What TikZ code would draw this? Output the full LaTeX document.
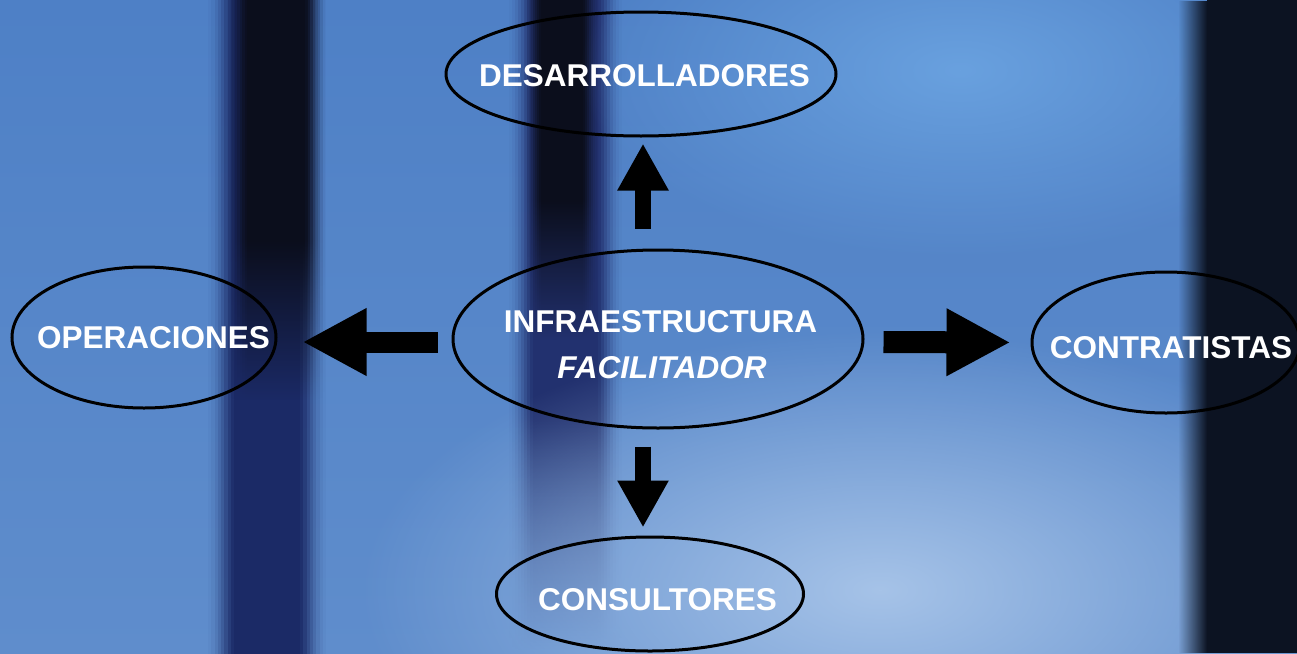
\documentclass[tikz,border=0pt]{standalone}
\usepackage{fontspec}
\setmainfont{Liberation Sans}
\usetikzlibrary{shapes.geometric,arrows.meta,fadings}
\tikzfading[name=fadeleft, left color=transparent!100, right color=transparent!0]
\tikzfading[name=fadebottom, top color=transparent!0, bottom color=transparent!100]
\tikzfading[name=glow, inner color=transparent!0, outer color=transparent!100]
\tikzfading[name=vband, top color=transparent!100, middle color=transparent!0, bottom color=transparent!100]
\definecolor{bgtop}{HTML}{4E80C6}
\definecolor{bgbot}{HTML}{5F8DCC}
\definecolor{glowA}{HTML}{69A1DF}
\definecolor{glowB}{HTML}{A6C3E8}
\definecolor{streak}{HTML}{2C4F96}
\definecolor{barblack}{HTML}{0B0E1C}
\definecolor{baronenavy}{HTML}{1B2A66}
\definecolor{bartwonavy}{HTML}{22316F}
\definecolor{rightdark}{HTML}{0C1322}
% soft vertical bar: colour, core left x, core right x, blur width, y top, y where fading starts, y bottom
\newcommand\softbar[7]{%
  \fill[#1] (#2,#5) rectangle (#3,#6);
  \fill[#1, path fading=fadebottom] (#2,#6) rectangle (#3,#7);
  \foreach \k/\o in {1/0.93,2/0.8,3/0.64,4/0.48,5/0.33,6/0.2,7/0.1,8/0.035}{%
    \pgfmathsetmacro\xa{#2-\k*#4/8}%
    \pgfmathsetmacro\xb{#2-(\k-1)*#4/8}%
    \pgfmathsetmacro\xc{#3+(\k-1)*#4/8}%
    \pgfmathsetmacro\xd{#3+\k*#4/8}%
    \fill[#1, opacity=\o] (\xa,#5) rectangle (\xb,#6);
    \fill[#1, opacity=\o, path fading=fadebottom] (\xa,#6) rectangle (\xb,#7);
    \fill[#1, opacity=\o] (\xc,#5) rectangle (\xd,#6);
    \fill[#1, opacity=\o, path fading=fadebottom] (\xc,#6) rectangle (\xd,#7);
  }%
}
\tikzset{
  ell/.style={draw=black, ellipse, line width=3pt, inner sep=0pt},
  lbl/.style={text=white, font=\bfseries\fontsize{31.5}{36}\selectfont, inner sep=0pt},
  lbli/.style={lbl, font=\bfseries\itshape\fontsize{31.5}{36}\selectfont},
  varrow/.style={draw=black, line width=16pt, line cap=butt, -{Triangle[length=47pt,width=48pt]}},
  harrow/.style={draw=black, line width=21pt, line cap=butt, -{Triangle[length=64pt,width=63pt]}}
}
\begin{document}
\begin{tikzpicture}[x=1pt,y=-1pt]
\useasboundingbox (0,0) rectangle (1297,653);
% ---------- background ----------
\shade[top color=bgtop, bottom color=bgbot] (0,0) rectangle (1297,653);
\fill[streak, opacity=0.35, path fading=vband] (0,160) rectangle (1190,210);
% left bar
\softbar{baronenavy}{234}{300}{26}{0}{653}{690}
\softbar{barblack}{247}{305}{20}{0}{240}{400}
% middle bar
\softbar{bartwonavy}{533}{598}{24}{0}{420}{650}
\softbar{barblack}{541}{583}{16}{0}{200}{340}
% light areas
\fill[glowA, path fading=glow] (960,70) ellipse [x radius=380pt, y radius=190pt];
\fill[glowB, path fading=glow] (880,590) ellipse [x radius=520pt, y radius=260pt];
% right dark area
\fill[rightdark] (1207,0) rectangle (1297,653);
\fill[rightdark, path fading=fadeleft] (1178,0) rectangle (1207,653);
% ---------- ellipses ----------
\node[ell, minimum width=390pt, minimum height=124pt] (des) at (641,74) {};
\node[ell, minimum width=410pt, minimum height=178pt] (infra) at (658,339) {};
\node[ell, minimum width=264pt, minimum height=141pt] (ops) at (144,337.5) {};
\node[ell, minimum width=268pt, minimum height=141pt] (con) at (1166,342.5) {};
\node[ell, minimum width=307pt, minimum height=114pt] (cons) at (650,594) {};
% ---------- labels ----------
\node[lbl] (desT) at (644.5,76) {DESARROLLADORES};
\node[lbl] (infraT) at (660.5,322) {INFRAESTRUCTURA};
\node[lbli] (facT) at (662,368) {FACILITADOR};
\node[lbl] (opsT) at (153.5,338) {OPERACIONES};
\node[lbl] (conT) at (1171,348) {CONTRATISTAS};
\node[lbl] (consT) at (657.5,600) {CONSULTORES};
% ---------- arrows ----------
\draw[varrow, shorten <=20pt, shorten >=6pt] ([xshift=-15pt]infra.north) -- ([xshift=2pt]des.south);
\draw[varrow, shorten <=17pt, shorten >=8pt] ([xshift=-15pt]infra.south) -- ([xshift=-7pt]cons.north);
\draw[harrow, shorten <=14pt, shorten >=25pt] ([yshift=-3pt]infra.west) -- ([yshift=-4.5pt]ops.east);
\draw[harrow, line width=22pt, shorten <=19pt, shorten >=20pt] ([yshift=-3pt]infra.east) -- (con.west);
\end{tikzpicture}
\end{document}
